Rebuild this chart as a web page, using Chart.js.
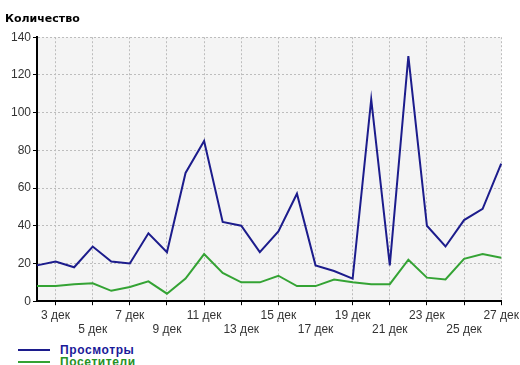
<!DOCTYPE html>
<html lang="ru">
<head>
  <meta charset="UTF-8">
  <title>Количество</title>
  <style>
    body { margin: 0; background: #fff; }
    .wrap { position: relative; width: 520px; height: 365px; overflow: hidden; }
    #chart { position: absolute; left: 0; top: 0; }
    .legend { position: absolute; left: 18px; top: 344px; font: bold 12px "Liberation Sans", Arial, sans-serif; letter-spacing: 0.6px; }
    .legend div { height: 12px; line-height: 12px; display: flex; align-items: center; white-space: nowrap; }
    .legend span.line { display: inline-block; width: 32px; height: 2px; margin-right: 10px; }
  </style>
</head>
<body>
  <div class="wrap">
    <canvas id="chart" width="522" height="340"></canvas>
    <div class="legend" id="legend"></div>
  </div>
  <script src="https://cdn.jsdelivr.net/npm/chart.js@4.4.1/dist/chart.umd.min.js"></script>
  <script>
    const days = ['2 дек', '3 дек', '4 дек', '5 дек', '6 дек', '7 дек', '8 дек', '9 дек', '10 дек',
      '11 дек', '12 дек', '13 дек', '14 дек', '15 дек', '16 дек', '17 дек', '18 дек', '19 дек',
      '20 дек', '21 дек', '22 дек', '23 дек', '24 дек', '25 дек', '26 дек', '27 дек'];
    const views = [19, 21, 18, 29, 21, 20, 36, 26, 68, 85, 42, 40, 26, 37, 57, 19, 16, 12, 107, 19, 130, 40, 29, 43, 49, 73];
    const visitors = [8, 8, 9, 9.5, 5.5, 7.5, 10.5, 4, 12, 25, 15, 10, 10, 13.5, 8, 8, 11.5, 10, 9, 9, 22, 12.5, 11.5, 22.5, 25, 23];
    const yTicks = [0, 20, 40, 60, 80, 100, 120, 140];

    const series = [
      { label: 'Просмотры', data: views, color: '#1c1c8c', text: '#1a1a99' },
      { label: 'Посетители', data: visitors, color: '#34a334', text: '#259125' }
    ];

    const $legend = document.querySelector('#legend');
    series.forEach((s) => {
      const row = document.createElement('div');
      row.innerHTML = `<span class="line" style="background:${s.color}"></span><span style="color:${s.text}">${s.label}</span>`;
      $legend.appendChild(row);
    });

    // light grey plot background
    const plotBg = {
      id: 'plotBg',
      beforeDraw(chart) {
        const { ctx, chartArea: a } = chart;
        ctx.save();
        ctx.fillStyle = '#f4f4f4';
        ctx.fillRect(a.left, a.top, a.right - a.left, a.bottom - a.top);
        ctx.restore();
      }
    };

    const tickFont = { family: '"Liberation Sans", Arial, sans-serif', size: 12 };
    const grid = { color: '#bdbdbd', tickLength: 4, tickBorderDash: [], tickColor: '#000' };
    const border = { color: '#000', width: 2, dash: [2, 2] };

    new Chart(document.querySelector('#chart'), {
      type: 'line',
      data: {
        labels: days,
        datasets: series.map((s) => ({
          label: s.label,
          data: s.data,
          borderColor: s.color,
          borderWidth: 2,
          pointRadius: 0,
          tension: 0,
          fill: false
        }))
      },
      options: {
        responsive: false,
        animation: false,
        layout: { padding: { left: 5, top: 0, right: 0, bottom: 0 } },
        plugins: {
          legend: { display: false },
          tooltip: { enabled: false },
          title: {
            display: true,
            text: 'Количество',
            align: 'start',
            color: '#000',
            font: { family: '"DejaVu Sans", Verdana, sans-serif', size: 11, weight: 'bold' },
            padding: { top: 13, bottom: 11 }
          }
        },
        scales: {
          x: {
            offset: false,
            border,
            grid,
            ticks: {
              autoSkip: false,
              maxRotation: 0,
              color: '#333',
              font: tickFont,
              padding: 3,
              callback: (v, i) => {
                const d = i + 2;
                if (d % 2 === 0) return null;
                return d % 4 === 3 ? days[i] : ['', days[i]];
              }
            }
          },
          y: {
            min: 0,
            max: 140,
            afterBuildTicks: (scale) => { scale.ticks = yTicks.map((v) => ({ value: v })); },
            afterFit: (scale) => { scale.width = 32; },
            border,
            grid,
            ticks: { color: '#333', font: tickFont, padding: 2 }
          }
        }
      },
      plugins: [plotBg]
    });
  </script>
</body>
</html>
